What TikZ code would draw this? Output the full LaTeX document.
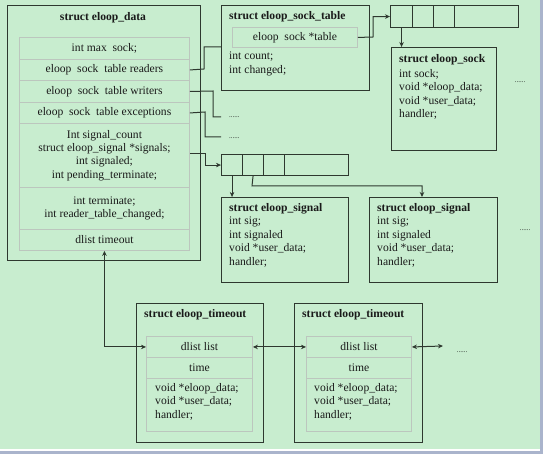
\documentclass[tikz,border=0pt]{standalone}
\usepackage{fontspec}
\setmainfont{Liberation Serif}
\usetikzlibrary{arrows.meta}
\definecolor{bggreen}{HTML}{C8EDCF}
\definecolor{edgeblue}{HTML}{AAB4CC}
\definecolor{boxline}{HTML}{2E382F}
\definecolor{cellline}{HTML}{BCC6BE}
\definecolor{txt}{HTML}{1A1A1A}
\tikzset{
  box/.style={draw=boxline, line width=1.3pt, anchor=north west, inner sep=0pt, fill=none},
  cell/.style={draw=cellline, line width=0.9pt, anchor=north west, inner sep=0pt, align=center,
     font=\fontsize{11.6}{13.3}\selectfont, text=txt},
  arr/.style={draw=boxline, line width=1.1pt, anchor=north west, inner sep=0pt},
  ttl/.style={font=\fontsize{11.6}{12}\selectfont\bfseries, text=txt, inner sep=0pt},
  lines/.style={font=\fontsize{11.6}{13.4}\selectfont, text=txt, inner sep=0pt, align=left, anchor=north west},
  conn/.style={draw=boxline, line width=1pt},
  tip/.style={-{Stealth[length=5pt,width=4.5pt]}},
  dots/.style={font=\fontsize{7}{8}\selectfont, text=txt, inner sep=0pt},
}
\begin{document}
\begin{tikzpicture}[x=1pt,y=-1pt]
\useasboundingbox (0,0) rectangle (543,454);
\fill[edgeblue] (0,0) rectangle (543,454);
\fill[white] (0,0) rectangle (540,451);
\fill[bggreen] (0,0) rectangle (540,449);

% ---- eloop_data
\node[box, minimum width=193pt, minimum height=255pt] (data) at (7,5) {};
\node[ttl] (datat) at (103,18) {struct eloop\_data};
\node[cell, minimum width=170pt, minimum height=22pt] (r1) at (19,37) {int max\ \ sock;};
\node[cell, minimum width=170pt, minimum height=21pt] (r2) at (19,59) {eloop\ \ sock\ \ table readers};
\node[cell, minimum width=170pt, minimum height=22pt] (r3) at (19,80) {eloop\ \ sock\ \ table writers};
\node[cell, minimum width=170pt, minimum height=21pt] (r4) at (19,102) {eloop\ \ sock\ \ table exceptions};
\node[cell, minimum width=170pt, minimum height=64pt] (r5) at (19,123) {Int signal\_count\\struct eloop\_signal *signals;\\int signaled;\\int pending\_terminate;};
\node[cell, minimum width=170pt, minimum height=42pt] (r6) at (19,187) {int terminate;\\int reader\_table\_changed;};
\node[cell, minimum width=170pt, minimum height=21pt] (r7) at (19,229) {dlist timeout};

% ---- eloop_sock_table
\node[box, minimum width=148pt, minimum height=85pt] (st) at (221,5) {};
\node[ttl, anchor=west] (stt) at (229,17) {struct eloop\_sock\_table};
\node[cell, minimum width=125pt, minimum height=20pt] (stin) at (232,27) {eloop\ \ sock *table};
\node[lines] (stl) at (229,52) {int count;\\int changed;};

% ---- sock array
\node[arr, minimum width=22pt, minimum height=22pt] (sa1) at (390,5) {};
\node[arr, minimum width=21pt, minimum height=22pt] (sa2) at (412,5) {};
\node[arr, minimum width=21pt, minimum height=22pt] (sa3) at (433,5) {};
\node[arr, minimum width=64pt, minimum height=22pt] (sa4) at (454,5) {};

% ---- eloop_sock
\node[box, minimum width=105pt, minimum height=103pt] (sock) at (391,47) {};
\node[ttl, anchor=west] (sockt) at (399,60) {struct eloop\_sock};
\node[lines] (sockl) at (399,69) {int sock;\\void *eloop\_data;\\void *user\_data;\\handler;};
\node[dots] (d1) at (520,82) {......};

% ---- dots for writers / exceptions
\node[dots, anchor=west] (d2) at (229,117) {......};
\node[dots, anchor=west] (d3) at (229,138) {......};
\coordinate (w2) at (221,117);
\coordinate (e2) at (221,137);

% ---- signal array
\node[arr, minimum width=21pt, minimum height=21pt] (ga1) at (221,154) {};
\node[arr, minimum width=21pt, minimum height=21pt] (ga2) at (242,154) {};
\node[arr, minimum width=21pt, minimum height=21pt] (ga3) at (263,154) {};
\node[arr, minimum width=64pt, minimum height=21pt] (ga4) at (284,154) {};

% ---- eloop_signal boxes
\node[box, minimum width=127pt, minimum height=85pt] (sg1) at (221,197) {};
\node[ttl, anchor=west] (sg1t) at (229,209) {struct eloop\_signal};
\node[lines] (sg1l) at (229,217) {int sig;\\int signaled\\void *user\_data;\\handler;};
\node[box, minimum width=128pt, minimum height=85pt] (sg2) at (369,197) {};
\node[ttl, anchor=west] (sg2t) at (377,209) {struct eloop\_signal};
\node[lines] (sg2l) at (377,217) {int sig;\\int signaled\\void *user\_data;\\handler;};
\node[dots] (d4) at (525,230) {......};

% ---- eloop_timeout boxes
\node[box, minimum width=127pt, minimum height=139pt] (to1) at (136,303) {};
\node[ttl, anchor=west] (to1t) at (144,315) {struct eloop\_timeout};
\node[cell, minimum width=106pt, minimum height=21pt] (t1a) at (146,336) {dlist list};
\node[cell, minimum width=106pt, minimum height=21pt] (t1b) at (146,357) {time};
\node[cell, minimum width=106pt, minimum height=53pt] (t1c) at (146,378) {};
\node[lines] (t1l) at (155,383) {void *eloop\_data;\\void *user\_data;\\handler;};

\node[box, minimum width=128pt, minimum height=139pt] (to2) at (294,303) {};
\node[ttl, anchor=west] (to2t) at (302,315) {struct eloop\_timeout};
\node[cell, minimum width=105pt, minimum height=21pt] (t2a) at (306,336) {dlist list};
\node[cell, minimum width=105pt, minimum height=21pt] (t2b) at (306,357) {time};
\node[cell, minimum width=105pt, minimum height=53pt] (t2c) at (306,378) {};
\node[lines] (t2l) at (314,383) {void *eloop\_data;\\void *user\_data;\\handler;};
\coordinate (tend) at (443,346);
\node[dots] (d5) at (462,352) {......};

% ---- connectors
\draw[conn] (r2.east) -- (204,69) |- (st.west |- 0,47);
\draw[conn] (r3.east) -- (213,91) |- (w2);
\draw[conn] (r4.east) -- (205,112) |- (e2);
\draw[conn, tip] (r5.east |- 0,154) -- (205,154) |- (ga1.west);
\draw[conn, tip] (stin.east) -- (373,37) |- (sa1.west);
\draw[conn, tip] (sa1.south) -- (sock.north -| sa1.south);
\draw[conn, tip] (ga1.south) -- (sg1.north -| ga1.south);
\draw[conn, tip] (ga2.south) -- (252,186) -| (sg2.north -| 422,0);
\draw[conn, {Stealth[length=5pt,width=4.5pt]}-{Stealth[length=5pt,width=4.5pt]}] (r7.south) |- (t1a.west);
\draw[conn, {Stealth[length=5pt,width=4.5pt]}-{Stealth[length=5pt,width=4.5pt]}] (t1a.east) -- (t2a.west);
\draw[conn, {Stealth[length=5pt,width=4.5pt]}-{Stealth[length=5pt,width=4.5pt]}] (t2a.east) -- (tend);
\end{tikzpicture}
\end{document}
